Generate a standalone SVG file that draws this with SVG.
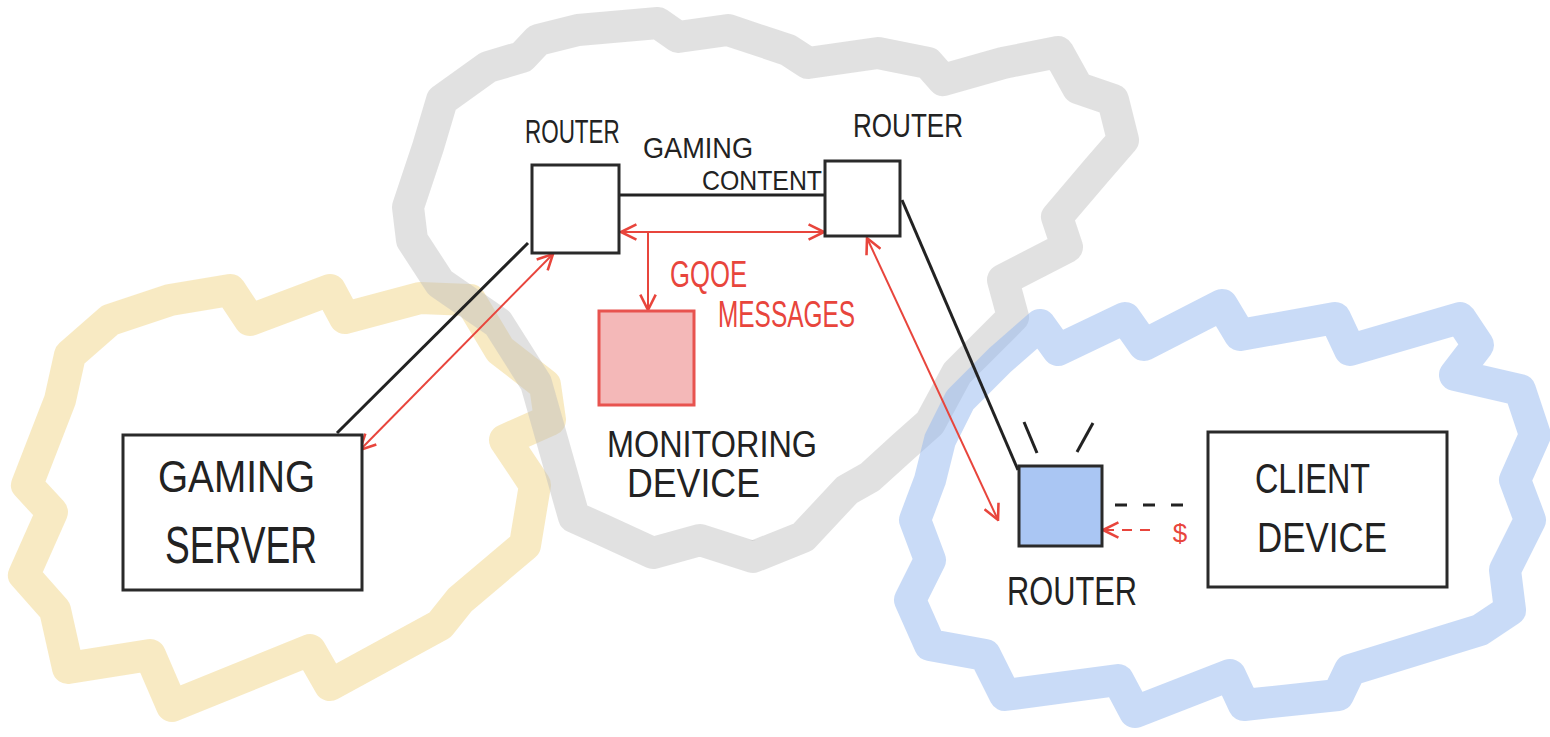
<svg xmlns="http://www.w3.org/2000/svg" width="1550" height="737" viewBox="0 0 1550 737">
<style>
.cloud{fill:none;stroke-width:32;stroke-linejoin:round;stroke-linecap:round}
.box{fill:#fff;stroke:#2a2a2a;stroke-width:3}
.lbl{font-family:"Liberation Sans",Arial,sans-serif;fill:#222;font-weight:normal}
.red{fill:#e8453c}
.wire{stroke:#222;stroke-width:3;fill:none}
.rline{stroke:#e8453c;stroke-width:2;fill:none}
</style>
<defs>
<marker id="ah" viewBox="0 0 14 14" refX="13" refY="7" markerWidth="18" markerHeight="18" markerUnits="userSpaceOnUse" orient="auto-start-reverse">
<path d="M1,1 L13,7 L1,13" fill="none" stroke="#e8453c" stroke-width="2"/>
</marker>
</defs>
<rect width="1550" height="737" fill="#fff"/>
<g id="clouds">
<path id="cloud-yellow" class="cloud" stroke="#f0d07a" opacity="0.45" d="M60,400 L70,355 L110,320 L170,300 L230,290 L250,320 L330,290 L345,318 L420,298 L470,300 L500,350 L545,385 L550,420 L505,440 L535,485 L525,545 L460,600 L440,625 L330,685 L310,650 L172,706 L150,655 L68,668 L55,610 L24,575 L52,512 L27,485 Z"/>
<path id="cloud-gray" class="cloud" stroke="#bdbdbd" opacity="0.45" d="M440,283 L412,240 L408,207 L428,147 L442,100 L488,67 L522,57 L538,40 L578,30 L658,23 L678,37 L728,30 L788,50 L808,63 L878,53 L928,63 L943,80 L1003,63 L1058,52 L1078,88 L1113,100 L1123,140 L1097,170 L1057,217 L1067,247 L1003,280 L1013,317 L957,373 L930,423 L903,447 L870,477 L847,490 L803,537 L753,557 L700,540 L653,553 L603,530 L574,517 L555,450 L536,383 L498,323 Z"/>
<path id="cloud-blue" class="cloud" stroke="#94b7f0" opacity="0.5" d="M940,440 L960,400 L1000,360 L1040,325 L1058,350 L1125,318 L1144,345 L1222,305 L1240,335 L1335,318 L1350,350 L1460,318 L1478,345 L1455,375 L1520,390 L1535,435 L1515,480 L1530,520 L1505,570 L1510,610 L1480,630 L1350,670 L1338,695 L1244,705 L1230,675 L1135,712 L1118,680 L1005,695 L985,655 L930,645 L910,600 L930,560 L915,520 L930,480 Z"/>
</g>
<g id="connectors">
<line class="wire" x1="337" y1="433" x2="528" y2="243"/>
<line class="rline" x1="360" y1="450" x2="553" y2="254" marker-start="url(#ah)" marker-end="url(#ah)"/>
<line class="wire" x1="619" y1="195" x2="825" y2="195"/>
<line class="rline" x1="621" y1="232" x2="824" y2="232" marker-start="url(#ah)" marker-end="url(#ah)"/>
<line class="rline" x1="648" y1="232" x2="648" y2="310" marker-end="url(#ah)"/>
<line class="wire" x1="902" y1="200" x2="1018" y2="470"/>
<line class="rline" x1="867" y1="238" x2="998" y2="520" marker-start="url(#ah)" marker-end="url(#ah)"/>
<line class="wire" x1="1115" y1="505" x2="1190" y2="505" stroke-dasharray="12 16"/>
<line class="rline" x1="1150" y1="530" x2="1103" y2="530" stroke-dasharray="10 8" marker-end="url(#ah)"/>
<text class="lbl red" x="1180" y="542" font-size="26" text-anchor="middle">$</text>
</g>
<g id="router-1">
<rect class="box" x="532" y="165" width="87" height="88"/>
<text class="lbl" font-size="34" transform="translate(525,143) scale(0.66,1)">ROUTER</text>
</g>
<g id="router-2">
<rect class="box" x="825" y="161" width="75" height="75"/>
<text class="lbl" x="853" y="137" font-size="34" textLength="110" lengthAdjust="spacingAndGlyphs">ROUTER</text>
</g>
<g id="gaming-content-label">
<text class="lbl" x="643" y="158" font-size="30" textLength="110" lengthAdjust="spacingAndGlyphs">GAMING</text>
<text class="lbl" x="702" y="190" font-size="28" textLength="120" lengthAdjust="spacingAndGlyphs">CONTENT</text>
</g>
<g id="gqoe-label">
<text class="lbl red" x="670" y="287" font-size="36" textLength="77" lengthAdjust="spacingAndGlyphs">GQOE</text>
<text class="lbl red" x="718" y="327" font-size="36" textLength="137" lengthAdjust="spacingAndGlyphs">MESSAGES</text>
</g>
<g id="monitoring-device">
<rect x="599" y="311" width="95" height="94" fill="#f4b8b8" stroke="#e8534f" stroke-width="3"/>
<text class="lbl" x="607" y="457" font-size="36" textLength="210" lengthAdjust="spacingAndGlyphs">MONITORING</text>
<text class="lbl" x="627" y="497" font-size="40" textLength="133" lengthAdjust="spacingAndGlyphs">DEVICE</text>
</g>
<g id="gaming-server">
<rect class="box" x="123" y="435" width="239" height="155"/>
<text class="lbl" x="158" y="492" font-size="44" textLength="157" lengthAdjust="spacingAndGlyphs">GAMING</text>
<text class="lbl" x="165" y="563" font-size="52" textLength="152" lengthAdjust="spacingAndGlyphs">SERVER</text>
</g>
<g id="router-3">
<line class="wire" x1="1024" y1="422" x2="1037" y2="453"/>
<line class="wire" x1="1093" y1="423" x2="1077" y2="452" stroke-width="4"/>
<rect x="1019" y="466" width="83" height="80" fill="#aac6f3" stroke="#2a2a2a" stroke-width="3"/>
<text class="lbl" x="1007" y="605" font-size="40" textLength="130" lengthAdjust="spacingAndGlyphs">ROUTER</text>
</g>
<g id="client-device">
<rect class="box" x="1208" y="432" width="239" height="155"/>
<text class="lbl" x="1255" y="493" font-size="42" textLength="115" lengthAdjust="spacingAndGlyphs">CLIENT</text>
<text class="lbl" x="1257" y="552" font-size="42" textLength="130" lengthAdjust="spacingAndGlyphs">DEVICE</text>
</g>
</svg>
